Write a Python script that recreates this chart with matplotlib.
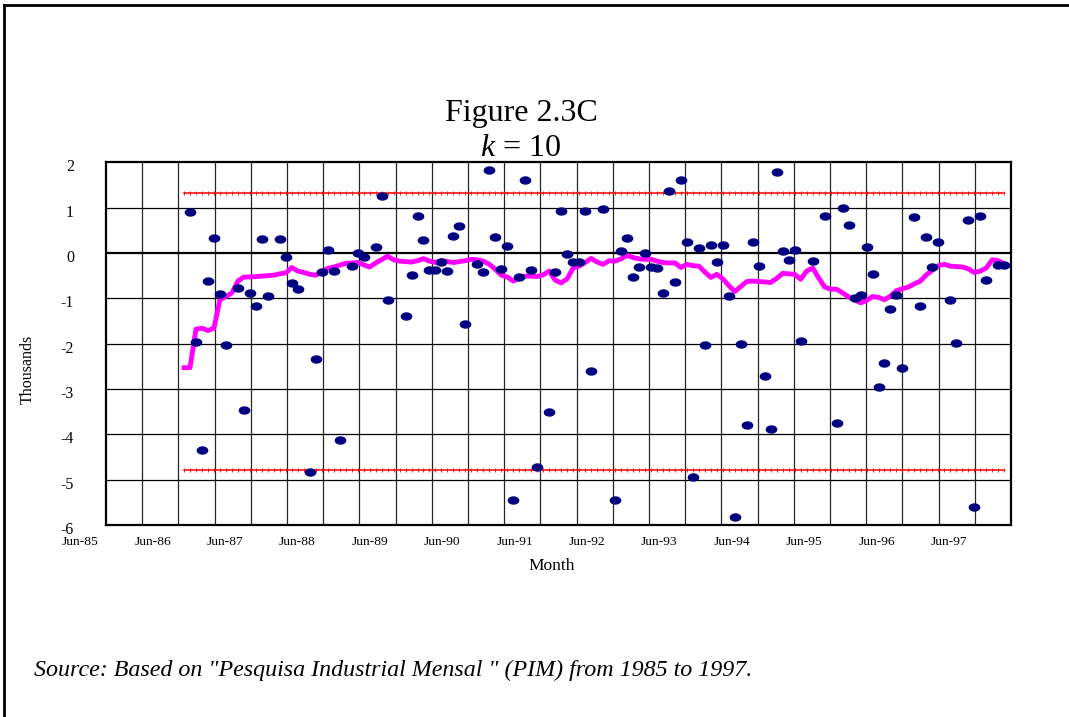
import numpy as np
import matplotlib
matplotlib.use('Agg')
import matplotlib.pyplot as plt
from matplotlib.path import Path
from matplotlib.lines import Line2D
import matplotlib.transforms as mtransforms

plt.rcParams['font.family'] = ['Liberation Serif', 'DejaVu Serif']
plt.rcParams['mathtext.fontset'] = 'custom'
plt.rcParams['mathtext.it'] = 'Liberation Serif:italic'
plt.rcParams['mathtext.rm'] = 'Liberation Serif'

# ---------------- data ----------------
dot_index = [0, 1, 2, 3, 4, 5, 6, 8, 9, 10, 11, 12, 13, 15, 16, 17, 18, 20, 21, 22,
             23, 24, 25, 27, 28, 29, 31, 32, 33, 36, 37, 38, 39, 40, 41, 42, 43, 44, 45, 46,
             48, 49, 50, 51, 52, 53, 54, 55, 56, 57, 58, 60, 61, 62, 63, 64, 65, 66, 67, 69,
             71, 72, 73, 74, 75, 76, 77, 78, 79, 80, 81, 82, 83, 84, 85, 86, 87, 88, 89, 90,
             91, 92, 93, 94, 95, 96, 97, 98, 99, 100, 101, 102, 104, 106, 108, 109, 110, 111, 112, 113,
             114, 115, 116, 117, 118, 119, 121, 122, 123, 124, 125, 127, 128, 130, 131, 132, 133, 135, 136]
dot_value = [0.90, -1.96, -4.35, -0.61, 0.32, -0.90, -2.03, -0.78, -3.46, -0.875, -1.16, 0.30, -0.94, 0.30, -0.09, -0.67, -0.79, -4.83, -2.34, -0.43,
             0.07, -0.40, -4.13, -0.29, -0.01, -0.09, 0.14, 1.26, -1.03, -1.40, -0.48, 0.81, 0.28, -0.375, -0.375, -0.19, -0.40, 0.375, 0.59, -1.56,
             -0.25, -0.41, 1.83, 0.35, -0.35, 0.15, -5.45, -0.54, 1.62, -0.37, -4.72, -3.51, -0.41, 0.93, -0.02, -0.19, -0.21, 0.93, -2.61, 0.96,
             -5.45, 0.04, 0.32, -0.54, -0.31, -0.01, -0.32, -0.34, -0.875, 1.37, -0.64, 1.60, 0.25, -4.95, 0.12, -2.04, 0.18, -0.21, 0.18, -0.96,
             -5.82, -2.01, -3.80, 0.235, -0.28, -2.72, -3.88, 1.79, 0.04, -0.16, 0.07, -1.94, -0.18, 0.81, -3.74, 0.99, 0.62, -1.00, -0.93, 0.14,
             -0.46, -2.96, -2.42, -1.24, -0.93, -2.54, 0.79, -1.17, 0.36, -0.32, 0.235, -1.03, -1.98, 0.735, -5.60, 0.81, -0.59, -0.27, -0.27]

line_start = -1
line_value = [-2.53, -2.53, -1.68, -1.66, -1.71, -1.66, -1.03, -0.96, -0.88, -0.62,
              -0.53, -0.53, -0.52, -0.51, -0.50, -0.49, -0.46, -0.44, -0.32, -0.40,
              -0.43, -0.47, -0.49, -0.41, -0.34, -0.31, -0.27, -0.23, -0.22, -0.21,
              -0.26, -0.31, -0.22, -0.15, -0.07, -0.15, -0.18, -0.19, -0.20, -0.17,
              -0.125, -0.18, -0.21, -0.17, -0.19, -0.21, -0.19, -0.17, -0.14, -0.15,
              -0.18, -0.25, -0.36, -0.49, -0.53, -0.62, -0.56, -0.51, -0.51, -0.52,
              -0.48, -0.40, -0.60, -0.66, -0.57, -0.33, -0.29, -0.21, -0.12, -0.20,
              -0.25, -0.17, -0.18, -0.13, -0.05, -0.10, -0.13, -0.14, -0.14, -0.18,
              -0.21, -0.22, -0.22, -0.32, -0.25, -0.28, -0.29, -0.42, -0.54, -0.47,
              -0.57, -0.72, -0.85, -0.74, -0.63, -0.62, -0.63, -0.64, -0.65, -0.56,
              -0.45, -0.46, -0.47, -0.58, -0.40, -0.33, -0.55, -0.75, -0.80, -0.80,
              -0.88, -0.97, -1.03, -1.10, -1.05, -0.96, -0.98, -1.03, -0.95, -0.83,
              -0.79, -0.75, -0.68, -0.62, -0.48, -0.38, -0.28, -0.25, -0.29, -0.30,
              -0.31, -0.35, -0.43, -0.40, -0.33, -0.15, -0.17, -0.24]

upper_limit = 1.33
lower_limit = -4.79

y_ticks = [-6, -5, -4, -3, -2, -1, 0, 1, 2]
x_tick_labels = ['Jun-85', 'Jun-86', 'Jun-87', 'Jun-88', 'Jun-89', 'Jun-90', 'Jun-91',
                 'Jun-92', 'Jun-93', 'Jun-94', 'Jun-95', 'Jun-96', 'Jun-97']

title = 'Figure 2.3C'
subtitle = r'$k$ = 10'
x_title = 'Month'
y_title = 'Thousands'
source = 'Source: Based on "Pesquisa Industrial Mensal " (PIM) from 1985 to 1997.'

# ---------------- figure ----------------
W, H = 1069, 717
fig = plt.figure(figsize=(W / 100, H / 100), dpi=100)
fig.patch.set_facecolor('white')
ax = fig.add_axes([106 / W, 1 - 525 / H, 905 / W, 362.7 / H])

x_lo, x_hi = -14.03, 137.13
ax.set_xlim(x_lo, x_hi)
ax.set_ylim(y_ticks[0], y_ticks[-1])

grid_x = np.linspace(x_lo, x_hi, 26)
for gx in grid_x[1:-1]:
    ax.axvline(gx, color='0.15', lw=0.9, zorder=1)
for gy in y_ticks[1:-1]:
    ax.axhline(gy, color='black', lw=1.6 if gy == 0 else 0.9, zorder=1)

line_x = np.arange(len(line_value)) + line_start
ax.plot(line_x, np.full(len(line_x), upper_limit), color='#FF0000', lw=1.1,
        marker='|', ms=2.5, mew=0.6, zorder=2)
ax.plot(line_x, np.full(len(line_x), lower_limit), color='#FF0000', lw=1.1,
        marker='|', ms=2.5, mew=0.6, zorder=2)
ax.plot(line_x, line_value, color='#FF00FF', lw=3.5, zorder=3)

theta = np.linspace(0, 2 * np.pi, 64)
ellipse = Path(np.column_stack([np.cos(theta), 0.68 * np.sin(theta)]), closed=True)
ax.plot(dot_index, dot_value, ls='none', marker=ellipse, ms=7.4,
        mfc='#000080', mec='#000080', zorder=4)

for sp in ax.spines.values():
    sp.set_linewidth(1.6)
    sp.set_color('black')

ax.set_xticks([])
ax.set_yticks(y_ticks)
ax.set_yticklabels([str(v) for v in y_ticks])
ax.tick_params(axis='y', length=0, pad=23, labelsize=11.5)
for lab in ax.get_yticklabels():
    lab.set_transform(lab.get_transform() + mtransforms.ScaledTranslation(0, -3 / 100, fig.dpi_scale_trans))

step = grid_x[1] - grid_x[0]
label_x = grid_x[0::2][:len(x_tick_labels)] - 0.71 * step
trans = mtransforms.blended_transform_factory(ax.transData, fig.transFigure)
for lx, lab in zip(label_x, x_tick_labels):
    ax.text(lx, 1 - 542 / H, lab, ha='center', va='center', fontsize=9.7,
            transform=trans, clip_on=False)

fig.text(521 / W, 1 - 113 / H, title, ha='center', va='center', fontsize=23)
fig.text(521 / W, 1 - 149 / H, subtitle, ha='center', va='center', fontsize=23)
fig.text(552 / W, 1 - 566 / H, x_title, ha='center', va='center', fontsize=12.5)
fig.text(28 / W, 1 - 369 / H, y_title, ha='center', va='center', fontsize=11.5, rotation=90)
fig.text(34 / W, 1 - 670 / H, source, ha='left', va='center', fontsize=17.3, style='italic')

fig.add_artist(Line2D([4 / W, 4 / W], [0, 1 - 5 / H], transform=fig.transFigure,
                      color='black', lw=2))
fig.add_artist(Line2D([4 / W, 1], [1 - 5 / H, 1 - 5 / H], transform=fig.transFigure,
                      color='black', lw=2))

fig.savefig('out.png', dpi=100)
